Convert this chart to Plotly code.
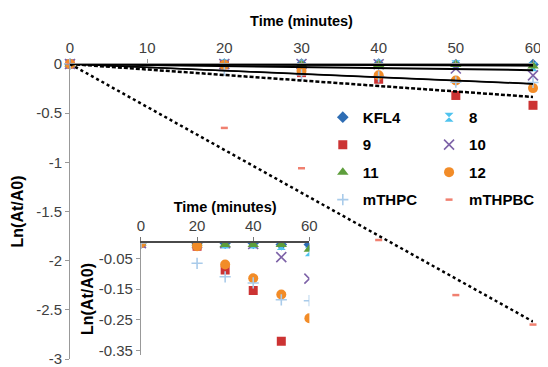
import numpy as np
import plotly.graph_objects as go

times = [0, 20, 30, 40, 50, 60]
series_names = ["KFL4", "8", "9", "10", "11", "12", "mTHPC", "mTHPBC"]
kfl4 = [0, 0, 0, 0, -0.005, -0.005]
s8 = [0, 0, -0.003, -0.003, -0.008, -0.028]
s9 = [0, -0.01, -0.088, -0.155, -0.32, -0.42]
s10 = [0, 0, 0, -0.003, -0.046, -0.116]
s11 = [0, 0, -0.005, -0.005, -0.005, -0.02]
s12 = [0, -0.01, -0.07, -0.115, -0.168, -0.245]
mthpc = [0, -0.066, -0.11, -0.13, -0.185, -0.188]
mthpbc = [0, -0.65, -1.06, -1.79, -2.35, -2.65]

values = [kfl4, s8, s9, s10, s11, s12, mthpc, mthpbc]

colors = ["#2E6DB4", "#4FC3EE", "#CC3333", "#7E63A8", "#5E9E3C", "#F28C28", "#A9CBEA", "#F08070"]
symbols = ["diamond", "hourglass", "square", "x-thin-open", "triangle-up", "circle", "cross-thin-open", "line-ew-open"]
sizes = [9, 9, 9, 10, 10, 10, 8, 5]
line_widths = [0, 0, 0, 1.6, 0, 0, 1.6, 2.5]
legend_ids = ["legend", "legend2", "legend", "legend2", "legend", "legend2", "legend", "legend2"]
trend_styles = [("solid", 2), ("solid", 2), ("4px,2px", 2.5), ("solid", 2), ("solid", 2), ("solid", 1.5), ("solid", 1.5), ("dot", 2.5)]

font_family = "Liberation Sans, Arial, sans-serif"
fig = go.Figure()

t = np.array(times, dtype=float)
# markers on main axes
for i, (name, v, c, s, sz, lw, lg) in enumerate(zip(series_names, values, colors, symbols, sizes, line_widths, legend_ids)):
    fig.add_trace(go.Scatter(
        x=times, y=v, mode="markers", name=name, legend=lg, legendgroup="g%d" % i,
        marker=dict(symbol=s, size=sz, color=c, line=dict(color=c, width=lw)),
        cliponaxis=False, xaxis="x", yaxis="y"))

# trendlines through origin (least squares)
for name, v, (dash, w) in zip(series_names, values, trend_styles):
    y = np.array(v, dtype=float)
    slope = float((t * y).sum() / (t * t).sum())
    fig.add_trace(go.Scatter(
        x=[0, 60], y=[0, slope * 60], mode="lines", showlegend=False,
        line=dict(color="black", width=w, dash=dash), cliponaxis=False,
        xaxis="x", yaxis="y", hoverinfo="skip"))

# inset markers
for name, v, c, s, sz, lw in zip(series_names, values, colors, symbols, sizes, line_widths):
    if name == "mTHPBC":
        continue
    fig.add_trace(go.Scatter(
        x=times, y=v, mode="markers", showlegend=False,
        marker=dict(symbol=s, size=sz, color=c, line=dict(color=c, width=lw)),
        cliponaxis=True, xaxis="x2", yaxis="y2"))

tick_font = dict(family=font_family, size=15, color="#404040")
xtitle_font = dict(family=font_family, size=14.5, color="black", weight="bold")
ytitle_font = dict(family=font_family, size=16, color="black", weight="bold")

main_xticks = [0, 10, 20, 30, 40, 50, 60]
main_yticks = [0, -0.5, -1, -1.5, -2, -2.5, -3]
main_yticktext = ["0", "-0.5", "-1", "-1.5", "-2", "-2.5", "-3"]
inset_yticks = [-0.05, -0.15, -0.25, -0.35]
inset_yticktext = ["-0.05", "-0.15", "-0.25", "-0.35"]
inset_xticks = [0, 20, 40, 60]

legend_font = dict(family=font_family, size=15, color="black", weight="bold")

fig.update_layout(
    width=540, height=359,
    margin=dict(l=62, r=8, t=56, b=8),
    paper_bgcolor="white", plot_bgcolor="rgba(0,0,0,0)",
    font=dict(family=font_family),
    xaxis=dict(domain=[0, 1], range=[0, 60], side="top", anchor="y", automargin=False,
               tickvals=main_xticks, showline=True, linecolor="#999999",
               linewidth=1, ticks="outside", ticklen=4, tickcolor="#999999",
               showgrid=False, zeroline=False, tickfont=tick_font, ticklabeloverflow="allow",
               title=dict(text="Time (minutes)", font=xtitle_font, standoff=8)),
    yaxis=dict(domain=[0, 1], range=[-3, 0], anchor="x", automargin=False, tickvals=main_yticks,
               ticktext=main_yticktext, showline=True, linecolor="#999999", linewidth=1,
               ticks="outside", ticklen=4, tickcolor="#999999", showgrid=False,
               zeroline=False, tickfont=tick_font, ticklabeloverflow="allow",
               title=dict(text="Ln(At/A0)", font=ytitle_font, standoff=8)),
    xaxis2=dict(domain=[0.1532, 0.517], range=[0, 60], side="top", anchor="y2", automargin=False,
                tickvals=inset_xticks, showline=True, linecolor="#4a4a4a", linewidth=2,
                ticks="outside", ticklen=4, tickcolor="#777777", showgrid=False,
                zeroline=False, tickfont=tick_font,
                title=dict(text="Time (minutes)", font=xtitle_font, standoff=1)),
    yaxis2=dict(domain=[0.0136, 0.393], range=[-0.365, 0], anchor="x2", automargin=False,
                tickvals=inset_yticks, ticktext=inset_yticktext,
                showline=True, linecolor="#999999", linewidth=1, ticks="outside",
                ticklen=4, tickcolor="#999999", showgrid=False, zeroline=False,
                tickfont=tick_font,
                title=dict(text="Ln(At/A0)", font=ytitle_font, standoff=1)),
    legend=dict(x=0.546, y=0.875, xanchor="left", yanchor="top", bgcolor="rgba(0,0,0,0)",
                font=legend_font, itemwidth=30, tracegroupgap=5),
    legend2=dict(x=0.7755, y=0.875, xanchor="left", yanchor="top", bgcolor="rgba(0,0,0,0)",
                 font=legend_font, itemwidth=30, tracegroupgap=5),
    showlegend=True,
)

fig.write_html("out.html")
